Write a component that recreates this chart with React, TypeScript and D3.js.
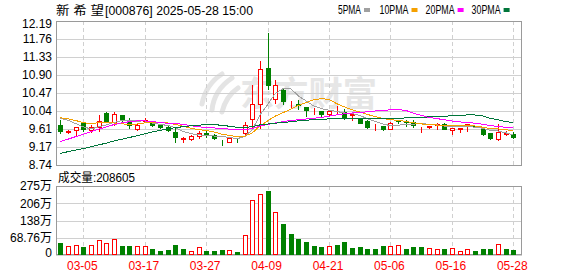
import React from "react";
import * as d3 from "d3";

// ---- data ----
const dates = [
  "2025-02-28","2025-03-03","2025-03-04","2025-03-05","2025-03-06","2025-03-07","2025-03-10","2025-03-11","2025-03-12","2025-03-13",
  "2025-03-14","2025-03-17","2025-03-18","2025-03-19","2025-03-20","2025-03-21","2025-03-24","2025-03-25","2025-03-26","2025-03-27",
  "2025-03-28","2025-03-31","2025-04-01","2025-04-02","2025-04-03","2025-04-07","2025-04-08","2025-04-09","2025-04-10","2025-04-11",
  "2025-04-14","2025-04-15","2025-04-16","2025-04-17","2025-04-18","2025-04-21","2025-04-22","2025-04-23","2025-04-24","2025-04-25",
  "2025-04-28","2025-04-29","2025-04-30","2025-05-06","2025-05-07","2025-05-08","2025-05-09","2025-05-12","2025-05-13","2025-05-14",
  "2025-05-15","2025-05-16","2025-05-19","2025-05-20","2025-05-21","2025-05-22","2025-05-23","2025-05-26","2025-05-27","2025-05-28",
];
const opens = [
  9.70,9.53,9.57,9.74,9.57,9.66,9.99,9.76,9.93,9.77,
  9.60,9.80,9.75,9.71,9.66,9.54,9.36,9.36,9.43,9.50,
  9.46,9.30,9.29,9.35,9.50,9.85,10.20,11.07,10.31,10.54,
  10.22,10.19,10.12,10.03,10.03,9.96,10.01,10.02,9.94,9.84,
  9.79,9.67,9.67,9.61,9.83,9.79,9.77,9.64,9.66,9.71,
  9.72,9.59,9.61,9.70,9.67,9.60,9.50,9.37,9.48,9.48,
];
const highs = [
  9.82,9.57,9.65,9.75,9.70,9.94,10.00,10.00,9.94,9.87,
  9.72,9.87,9.78,9.72,9.67,9.62,9.40,9.47,9.56,9.56,
  9.48,9.35,9.40,9.38,9.76,10.66,11.22,11.91,10.78,10.57,
  10.27,10.30,10.14,10.10,10.04,10.03,10.15,10.07,9.96,9.86,
  9.81,9.72,9.67,9.76,9.83,9.83,9.83,9.65,9.68,9.74,
  9.74,9.62,9.63,9.72,9.68,9.62,9.50,9.72,9.56,9.52,
];
const lows = [
  9.51,9.50,9.44,9.55,9.53,9.55,9.76,9.70,9.80,9.62,
  9.58,9.78,9.67,9.63,9.55,9.30,9.30,9.35,9.38,9.41,
  9.36,9.21,9.28,9.30,9.43,9.63,9.62,10.56,10.23,10.19,
  10.14,10.07,9.91,9.96,9.90,9.92,9.99,9.84,9.82,9.75,
  9.62,9.58,9.59,9.60,9.74,9.67,9.65,9.54,9.63,9.61,
  9.61,9.48,9.54,9.56,9.64,9.45,9.37,9.33,9.47,9.38,
];
const closes = [
  9.55,9.56,9.65,9.61,9.65,9.79,9.80,9.95,9.82,9.69,
  9.70,9.82,9.70,9.65,9.57,9.42,9.38,9.44,9.51,9.47,
  9.38,9.28,9.39,9.33,9.71,10.20,11.05,10.65,10.66,10.27,
  10.23,10.17,10.06,10.04,9.96,10.03,10.02,9.89,9.95,9.75,
  9.64,9.68,9.60,9.74,9.79,9.78,9.69,9.65,9.68,9.73,
  9.61,9.62,9.63,9.72,9.65,9.48,9.38,9.54,9.51,9.40,
];
// closes before the first visible day, estimated from where the MA lines start
const priorCloses = [
  8.40,8.45,8.50,8.48,8.42,8.45,8.50,8.48,8.47,8.45,
  8.40,8.42,8.45,8.50,8.55,8.70,8.80,9.05,9.10,9.33,
  9.80,10.05,10.10,9.95,9.50,9.80,10.05,10.00,9.90,
];
const volumes = [
  492000,359000,399000,332000,399000,598000,492000,638000,359000,359000,
  359000,359000,239000,173000,199000,399000,239000,159000,306000,173000,
  173000,199000,199000,133000,797000,2192000,2431000,2564000,1701000,1236000,
  837000,638000,531000,359000,319000,359000,399000,531000,292000,319000,
  239000,239000,359000,345000,385000,239000,319000,319000,266000,239000,
  239000,266000,146000,226000,159000,239000,239000,439000,239000,208605,
];
// 1 = rising day (red hollow volume bar), 0 = falling day (green bar)
const volumeRising = [
  0,1,1,0,1,1,1,1,0,0,
  1,1,0,0,0,0,0,1,1,0,
  0,0,1,0,1,1,1,0,1,0,
  0,0,0,0,0,1,0,0,0,0,
  0,0,0,1,1,0,0,0,1,1,
  0,1,1,1,0,0,0,1,0,0,
];
const priceTickLabels = ["12.19","11.76","11.33","10.90","10.47","10.04","9.61","9.17","8.74"];
const volumeTickLabels = ["275万","206万","138万","68.76万","0"];
const xTickLabels = ["03-05","03-17","03-27","04-09","04-21","05-06","05-16","05-28"];
const maPeriods = [5, 10, 20, 30];
const maNames = ["5PMA", "10PMA", "20PMA", "30PMA"];

// ---- styles ----
const maColors = ["#a0a0a0", "#f5a000", "#ff00ff", "#00753a"];
const UP = "#ff0000";
const DOWN = "#008000";
const GRID = "#d0d0d0";
const BORDER = "#9a9a9a";
const FONT = "'Liberation Sans', 'Noto Sans CJK SC', sans-serif";

export default function App() {
  const W = 578, H = 276;
  const L = 56, R = 522, pT = 21, pB = 165, vT = 186, vB = 255;

  const x = d3.scalePoint<string>().domain(dates).range([60.3, 513.3]);
  const y = d3.scaleLinear().domain([8.74, 12.19]).range([pB, pT]);
  const yv = d3.scaleLinear().domain([0, 2750400]).range([vB, vT]);

  const all = [...priorCloses, ...closes];
  const off = priorCloses.length;
  const mas = maPeriods.map((n) =>
    closes.map((_, i) => d3.mean(all.slice(i + off - n + 1, i + off + 1)) as number)
  );
  const line = d3
    .line<number>()
    .x((_, i) => x(dates[i]) as number)
    .y((v) => y(v));

  const priceTicks = priceTickLabels.map((_, k) => 12.19 - (k * (12.19 - 8.74)) / 8);
  const volTicks = volumeTickLabels.map((_, k) => 2750400 - k * 687600);
  const tickDates = xTickLabels.map((lab) => dates.find((d) => d.slice(5) === lab) as string);

  const cx = (i: number) => Math.round(x(dates[i]) as number);

  return (
    <svg
      width={W}
      height={H}
      style={{ position: "absolute", left: 0, top: 0, background: "#fff" }}
      fontFamily={FONT}
    >
      <rect x={0} y={0} width={W} height={H} fill="#fff" />

      {/* title */}
      <text x={56} y={14.5} fontSize={12} fill="#000" textLength={48} lengthAdjust="spacingAndGlyphs">新 希 望</text>
      <text x={105} y={14.5} fontSize={12} fill="#000" textLength={148} lengthAdjust="spacingAndGlyphs">[000876] 2025-05-28 15:00</text>

      {/* legend */}
      {maNames.map((name, k) => {
        const lx = [338, 379.5, 425.6, 471.6][k];
        const w = name.length * 6 - 1;
        return (
          <g key={name}>
            <text x={lx} y={14} fontSize={12} fill="#000" textLength={w} lengthAdjust="spacingAndGlyphs">{name}</text>
            <rect x={lx + w + 3} y={8} width={6} height={4} fill={maColors[k]} />
          </g>
        );
      })}

      {/* watermark */}
      <g fill="none" stroke="#e4e4e4" strokeWidth={5} strokeLinecap="round">
        <path d="M202,104 Q206,84 222,74" />
        <path d="M212,110 Q214,90 232,78" />
        <path d="M222,112 Q226,96 238,88" />
      </g>
      <text x={240} y={106} fontSize={34} fontWeight="bold" fill="#e6e6e6" fontFamily="'Noto Sans CJK SC', sans-serif" textLength={137} lengthAdjust="spacingAndGlyphs">东方财富</text>

      {/* grids */}
      {priceTicks.map((v, k) => (
        <line key={"pg" + k} x1={L} x2={R} y1={Math.round(y(v)) + 0.5} y2={Math.round(y(v)) + 0.5} stroke={GRID} />
      ))}
      {volTicks.map((v, k) => (
        <line key={"vg" + k} x1={L} x2={R} y1={Math.round(yv(v)) + 0.5} y2={Math.round(yv(v)) + 0.5} stroke={GRID} />
      ))}
      {tickDates.map((d) => {
        const xx = Math.round(x(d) as number) + 0.5;
        return (
          <g key={"vd" + d}>
            <line x1={xx} x2={xx} y1={pT} y2={pB} stroke={GRID} strokeDasharray="4,3" />
            <line x1={xx} x2={xx} y1={vT} y2={vB} stroke={GRID} strokeDasharray="4,3" />
          </g>
        );
      })}

      {/* borders */}
      <rect x={L + 0.5} y={pT + 0.5} width={R - L - 1} height={pB - pT} fill="none" stroke={BORDER} />
      <rect x={L + 0.5} y={vT + 0.5} width={R - L - 1} height={vB - vT - 1} fill="none" stroke={BORDER} />

      {/* y labels */}
      {priceTicks.map((v, k) => (
        <text key={"pl" + k} x={52} y={Math.max(y(v) + 4.3, 27.5)} fontSize={12} textAnchor="end" fill="#000">
          {priceTickLabels[k]}
        </text>
      ))}
      {volTicks.map((v, k) => (
        <text key={"vl" + k} x={52} y={Math.min(yv(v) + 4.3, 257)} fontSize={12} textAnchor="end" fill="#000">
          {volumeTickLabels[k]}
        </text>
      ))}

      {/* x labels */}
      {tickDates.map((d, k) => (
        <text key={"xl" + d} x={(x(d) as number) - 1} y={270} fontSize={12} textAnchor="middle" fill={UP}>
          {xTickLabels[k]}
        </text>
      ))}

      {/* volume title */}
      <text x={58} y={182} fontSize={12} fill="#000" textLength={77} lengthAdjust="spacingAndGlyphs">
        {"成交量:" + volumes[volumes.length - 1]}
      </text>

      {/* candles */}
      {dates.map((d, i) => {
        const c = cx(i);
        const o = opens[i], cl = closes[i];
        const up = cl >= o;
        const col = up ? UP : DOWN;
        const yTop = Math.round(y(Math.max(o, cl))) + 0.5;
        const yBot = Math.round(y(Math.min(o, cl))) + 0.5;
        return (
          <g key={"c" + d} shapeRendering="crispEdges">
            <line x1={c + 0.5} x2={c + 0.5} y1={Math.round(y(highs[i]))} y2={Math.round(y(lows[i])) + 1} stroke={col} />
            <rect x={c - 1.5} y={yTop} width={4} height={Math.max(0, yBot - yTop)} fill={up ? "#fff" : DOWN} stroke={col} />
          </g>
        );
      })}

      {/* moving averages */}
      {mas.map((m, k) => (
        <path key={"ma" + k} d={line(m) as string} fill="none" stroke={maColors[k]} strokeWidth={1} shapeRendering="crispEdges" />
      ))}

      {/* volume bars */}
      {dates.map((d, i) => {
        const c = cx(i);
        const up = volumeRising[i] === 1;
        const top = Math.round(yv(volumes[i])) + 0.5;
        return (
          <rect
            key={"v" + d}
            x={c - 1.5}
            y={top}
            width={4}
            height={vB - 0.5 - top}
            fill={up ? "#fff" : DOWN}
            stroke={up ? UP : DOWN}
            shapeRendering="crispEdges"
          />
        );
      })}
    </svg>
  );
}
